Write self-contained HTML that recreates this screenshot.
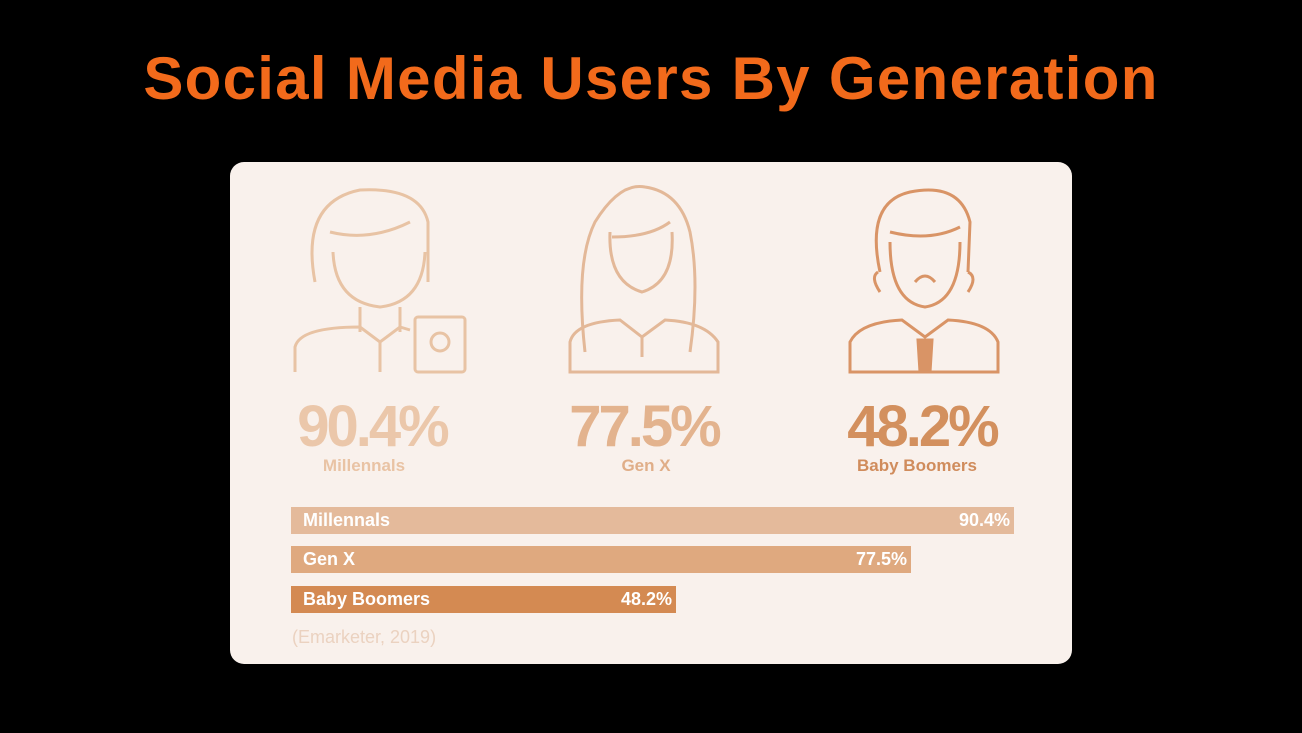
<!DOCTYPE html>
<html><head><style>
body{margin:0;width:1302px;height:733px;background:#000;overflow:hidden;font-family:"Liberation Sans",sans-serif;position:relative}
h1{position:absolute;top:44px;left:0;width:1302px;text-align:center;margin:0;color:#f26a1b;font-size:60px;font-weight:bold;letter-spacing:1.3px}
.card{position:absolute;left:230px;top:162px;width:842px;height:502px;background:#f9f1ec;border-radius:14px}
.big{position:absolute;font-weight:bold;font-size:58px;letter-spacing:-3px;text-align:center;width:240px}
.lab{position:absolute;font-weight:bold;font-size:17px;text-align:center;width:240px}
.bar{position:absolute;left:61px;height:27px;color:#fff;font-weight:bold;font-size:18px;line-height:27px}
.bar span{position:absolute;right:4px}
.bar b{position:absolute;left:12px}
</style></head><body>
<h1>Social Media Users By Generation</h1>
<div class="card">
<svg width="842" height="220" style="position:absolute;left:0;top:0" fill="none" stroke-width="3">
<g stroke="#e8c3a4">
<path d="M85 120 Q70 40 130 28 Q190 25 198 60 L198 120"/>
<path d="M100 70 Q140 80 180 60"/>
<path d="M103 90 Q105 140 150 145 Q193 140 195 90"/>
<path d="M130 145 L130 170 M170 145 L170 170"/>
<path d="M65 210 L65 185 Q70 165 130 165 L150 180 L170 165 L180 168"/>
<path d="M150 180 L150 210"/>
<rect x="185" y="155" width="50" height="55" rx="3"/>
<circle cx="210" cy="180" r="9"/>
</g>
<g stroke="#e3b898">
<path d="M355 190 Q345 100 365 60 Q390 20 415 25 Q450 30 460 70 Q470 120 460 190"/>
<path d="M382 75 Q420 75 440 60"/>
<path d="M380 70 Q378 120 412 130 Q445 120 442 70"/>
<path d="M340 210 L340 180 Q345 160 390 158 L412 175 L435 158 Q475 160 488 180 L488 210 Z"/>
<path d="M412 175 L412 195"/>
</g>
<g stroke="#d99466">
<path d="M650 110 Q635 40 680 30 Q730 20 740 60 L738 110"/>
<path d="M648 110 Q640 115 650 130 M738 110 Q748 115 738 130"/>
<path d="M660 70 Q700 80 730 65"/>
<path d="M660 80 Q660 140 695 145 Q730 140 730 80"/>
<path d="M685 120 Q695 108 705 120"/>
<path d="M620 210 L620 180 Q630 160 672 158 L695 175 L718 158 Q760 160 768 180 L768 210 Z"/>
<path d="M688 178 L702 178 L700 210 L690 210 Z" fill="#d99466"/>
</g>
</svg>
<div class="big" style="left:22px;top:231px;color:#ebc7aa">90.4%</div>
<div class="lab" style="left:14px;top:294px;color:#e9c3a4">Millennals</div>
<div class="big" style="left:294px;top:231px;color:#e3b38e">77.5%</div>
<div class="lab" style="left:296px;top:294px;color:#e0ae88">Gen X</div>
<div class="big" style="left:572px;top:231px;color:#d3905e">48.2%</div>
<div class="lab" style="left:567px;top:294px;color:#d08c5c">Baby Boomers</div>
<div class="bar" style="top:345px;width:723px;background:#e4ba9b"><b>Millennals</b><span>90.4%</span></div>
<div class="bar" style="top:384px;width:620px;background:#dfa97f"><b>Gen X</b><span>77.5%</span></div>
<div class="bar" style="top:424px;width:385px;background:#d48a52"><b>Baby Boomers</b><span>48.2%</span></div>
<div style="position:absolute;left:62px;top:465px;color:#ebd2c0;font-size:18px">(Emarketer, 2019)</div>
</div>
</body></html>
